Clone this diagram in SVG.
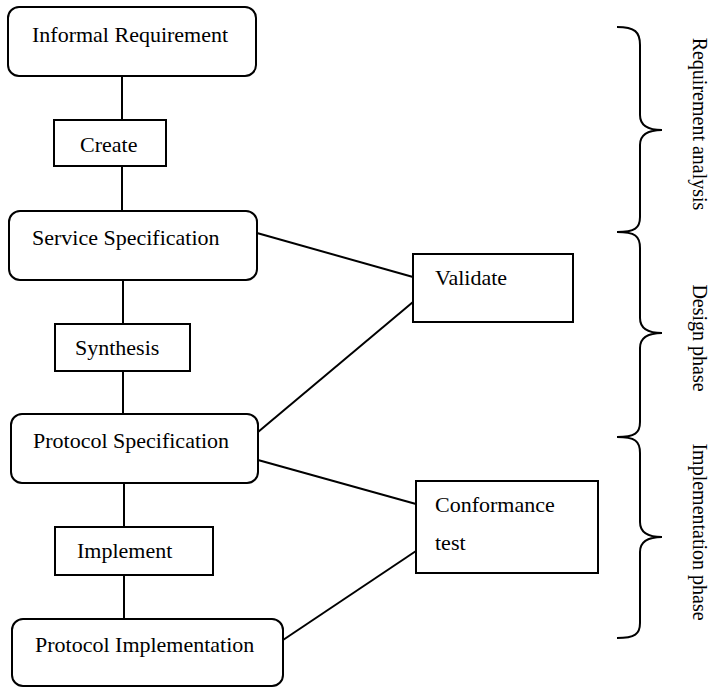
<svg xmlns="http://www.w3.org/2000/svg" width="712" height="687" viewBox="0 0 712 687">
  <style>
    .box { fill: #fff; stroke: #000; stroke-width: 2; }
    .lbl { font-family: "Liberation Serif", "Times New Roman", serif; font-size: 22px; fill: #000; }
    .side { font-family: "Liberation Serif", "Times New Roman", serif; font-size: 20px; fill: #000; text-anchor: middle; }
    .conn { stroke: #000; stroke-width: 2; fill: none; }
    .brace { stroke: #000; stroke-width: 2; fill: none; }
  </style>
  <rect width="712" height="687" fill="#fff"/>

  <!-- connectors -->
  <g id="connectors">
    <line class="conn" x1="122" y1="76" x2="122" y2="120"/>
    <line class="conn" x1="122" y1="166" x2="122" y2="211"/>
    <line class="conn" x1="123" y1="280" x2="123" y2="324"/>
    <line class="conn" x1="123" y1="371" x2="123" y2="414"/>
    <line class="conn" x1="124" y1="483" x2="124" y2="527"/>
    <line class="conn" x1="124" y1="575" x2="124" y2="619"/>
    <line class="conn" x1="257" y1="233" x2="413" y2="277"/>
    <line class="conn" x1="258" y1="432" x2="413" y2="302"/>
    <line class="conn" x1="258" y1="460" x2="416" y2="504"/>
    <line class="conn" x1="283" y1="640" x2="416" y2="551"/>
  </g>

  <g id="informal-requirement">
    <rect class="box" x="8" y="7" width="248" height="69" rx="11"/>
    <text class="lbl" x="32" y="42">Informal Requirement</text>
  </g>
  <g id="create">
    <rect class="box" x="54" y="120" width="112" height="46"/>
    <text class="lbl" x="80" y="152">Create</text>
  </g>
  <g id="service-specification">
    <rect class="box" x="9" y="211" width="248" height="69" rx="11"/>
    <text class="lbl" x="32" y="245">Service Specification</text>
  </g>
  <g id="synthesis">
    <rect class="box" x="55" y="324" width="135" height="47"/>
    <text class="lbl" x="75" y="355">Synthesis</text>
  </g>
  <g id="protocol-specification">
    <rect class="box" x="11" y="414" width="247" height="69" rx="11"/>
    <text class="lbl" x="33" y="448">Protocol Specification</text>
  </g>
  <g id="implement">
    <rect class="box" x="55" y="527" width="158" height="48"/>
    <text class="lbl" x="77" y="558">Implement</text>
  </g>
  <g id="protocol-implementation">
    <rect class="box" x="12" y="619" width="271" height="67" rx="11"/>
    <text class="lbl" x="35" y="652">Protocol Implementation</text>
  </g>
  <g id="validate">
    <rect class="box" x="413" y="254" width="160" height="68"/>
    <text class="lbl" x="435" y="285">Validate</text>
  </g>
  <g id="conformance-test">
    <rect class="box" x="416" y="481" width="182" height="92"/>
    <text class="lbl" x="435" y="512">Conformance</text>
    <text class="lbl" x="435" y="550">test</text>
  </g>

  <!-- phase braces -->
  <g id="phase-requirement-analysis">
    <path class="brace" d="M617,27 C635,27 640,32 640,45 L640,115 C640,126 648,130 662,130 C648,130 640,134 640,145 L640,217 C640,228 635,232 617,232"/>
    <text class="side" transform="translate(693,124) rotate(90)">Requirement analysis</text>
  </g>
  <g id="phase-design">
    <path class="brace" d="M617,232 C635,232 640,236 640,248 L640,318 C640,329 648,333 662,333 C648,333 640,337 640,348 L640,422 C640,433 635,437 617,437"/>
    <text class="side" transform="translate(693,338) rotate(90)">Design phase</text>
  </g>
  <g id="phase-implementation">
    <path class="brace" d="M617,437 C635,437 640,441 640,453 L640,522 C640,533 648,537 662,537 C648,537 640,541 640,552 L640,623 C640,634 635,638 617,638"/>
    <text class="side" transform="translate(693,532) rotate(90)">Implementation phase</text>
  </g>
</svg>
